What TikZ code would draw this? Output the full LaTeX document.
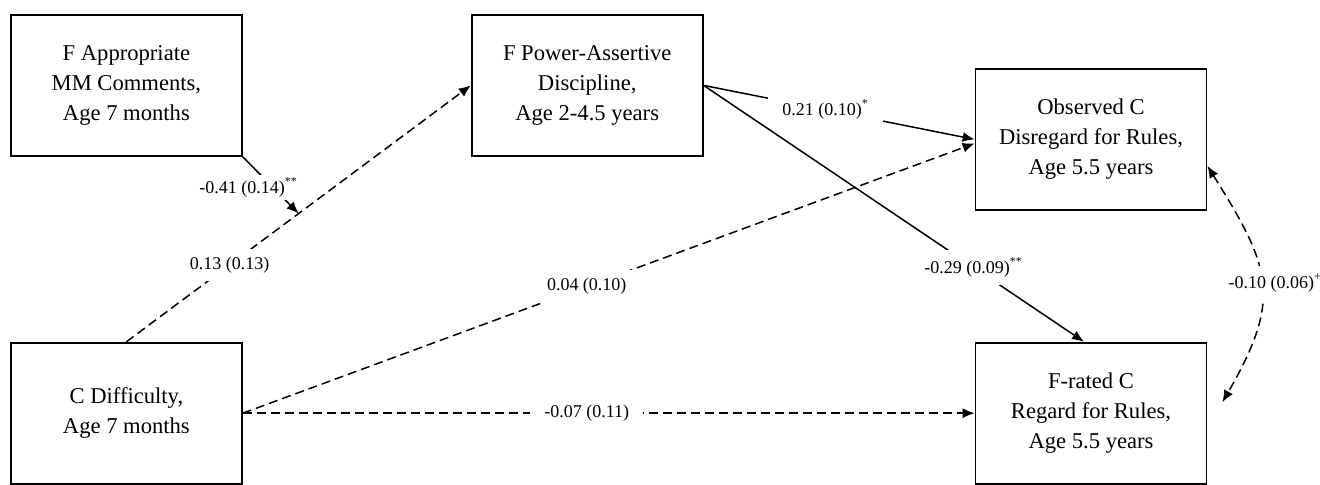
\documentclass[tikz,border=0pt]{standalone}
\usepackage{fontspec}
\setmainfont{Liberation Serif}
\usetikzlibrary{arrows.meta}
\usetikzlibrary{positioning}
\usetikzlibrary{calc}

\begin{document}
\begin{tikzpicture}[
		node distance=114pt,
		>={Latex[length=6pt,width=5pt]},
		block/.style={draw, line width=0.9pt, align=center, minimum height=70.5pt, minimum width=115.5pt, font=\fontsize{11.3}{15}\selectfont},
		link/.style={line width=0.75pt, ->},
		dlink/.style={link, dash pattern=on 4.5pt off 2.5pt},
		coef/.style={fill=white, inner xsep=7pt, inner ysep=4pt, font=\fontsize{9}{10}\selectfont}
	]
	\node[block] (fapp) {F Appropriate\\MM Comments,\\Age 7 months};
	\node[block, right=of fapp] (fpad) {F Power-Assertive\\Discipline,\\Age 2-4.5 years};
	\node[block, right=135.5pt of fpad, yshift=-27pt] (obs) {Observed C\\Disregard for Rules,\\Age 5.5 years};
	\node[block, below=92.5pt of fapp] (cdiff) {C Difficulty,\\Age 7 months};
	\node[block, below=65.5pt of obs] (frated) {F-rated C\\Regard for Rules,\\Age 5.5 years};

	\useasboundingbox ([shift={(-5pt,7pt)}]fapp.north west) rectangle ++(660pt,-239pt);

	% moderated path
	\coordinate (mid) at ($(cdiff.north)!0.5!(fpad.west)$);
	\draw[dlink] (cdiff.north) -- node[coef, pos=0.3] {0.13 (0.13)} (fpad.west);
	\draw[link] (fapp.south east) -- node[coef, inner xsep=3pt, inner ysep=1.5pt, xshift=-11pt, yshift=-1pt] {-0.41 (0.14)\textsuperscript{**}} (mid);

	\draw[link] (fpad.east) -- node[coef, pos=0.45] {0.21 (0.10)\textsuperscript{*}} (obs.west);
	\draw[link] (fpad.east) -- node[coef, pos=0.71] {-0.29 (0.09)\textsuperscript{**}} ([xshift=-3.5pt]frated.north);
	\draw[dlink] (cdiff.east) -- node[coef, pos=0.47] {0.04 (0.10)} ([yshift=-2pt]obs.west);
	\draw[dlink] (cdiff.east) -- node[coef, pos=0.47] {-0.07 (0.11)} (frated.west);

	% residual covariance
	\draw[dlink, <->] ([yshift=-13.25pt]obs.east) to[out=-58, in=60, looseness=1.3] node[coef, xshift=7pt] {-0.10 (0.06)\textsuperscript{+}} ([shift={(7.5pt,5.5pt)}]frated.east);
\end{tikzpicture}
\end{document}
